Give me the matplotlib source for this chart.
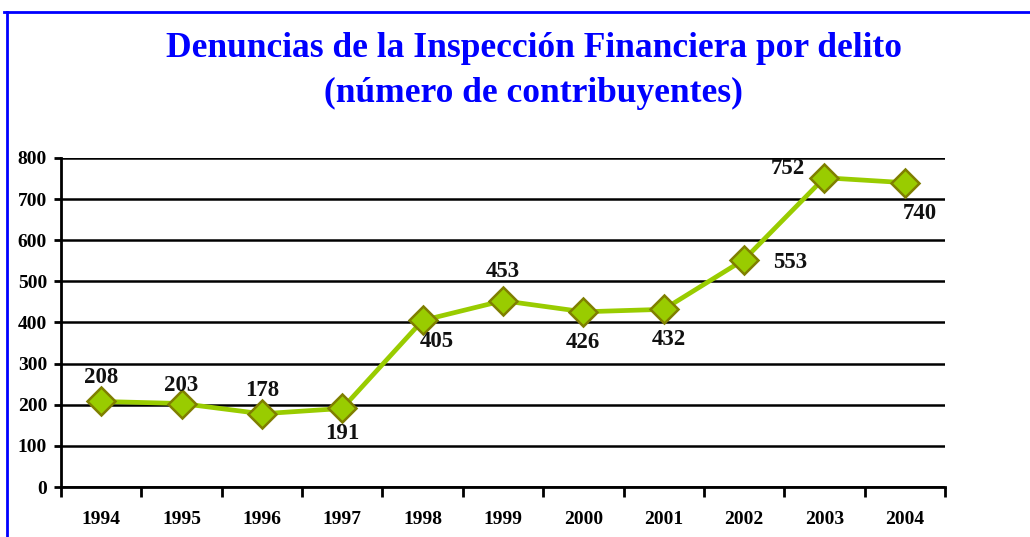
import matplotlib.pyplot as plt
from matplotlib.lines import Line2D

years = ['1994', '1995', '1996', '1997', '1998', '1999', '2000', '2001', '2002', '2003', '2004']
denuncias = [208, 203, 178, 191, 405, 453, 426, 432, 553, 752, 740]
# where each data label goes: (dx, dy) in points
label_pos = [(0, 17), (0, 13), (0, 17), (0, -18), (10, -15), (0, 21),
             (0, -22), (4, -22), (33, -2), (-26, 7), (11, -22)]

serif = ['Liberation Serif', 'DejaVu Serif']

fig = plt.figure(figsize=(10.3, 5.37), dpi=100)
ax = fig.add_axes([0.0592, 0.0931, 0.8583, 0.6127])

x = list(range(len(years)))
ax.plot(x, denuncias, color='#99cc00', lw=3.4, marker='D', ms=14,
        mfc='#99cc00', mec='#7f7f00', mew=1.8, zorder=3, clip_on=False)

for xi, v, (dx, dy) in zip(x, denuncias, label_pos):
    ax.annotate(str(v), (xi, v), xytext=(dx, dy), textcoords='offset points',
                ha='center', va='center', fontsize=16.5, fontweight='bold',
                family=serif, color='#111111')

ax.set_xlim(-0.5, len(years) - 0.5)
ax.set_ylim(0, 800)
ax.set_yticks(range(0, 801, 100))
ax.set_yticklabels([str(v) for v in range(0, 801, 100)], fontsize=14,
                   fontweight='bold', family=serif)
ax.yaxis.grid(True, color='black', lw=1.8)
ax.set_axisbelow(True)

# category ticks sit between the years, labels centred under each year
ax.set_xticks([i - 0.5 for i in range(len(years) + 1)])
ax.set_xticklabels([])
ax.set_xticks(x, minor=True)
ax.set_xticklabels(years, minor=True, fontsize=14, fontweight='bold', family=serif)
ax.tick_params(axis='x', which='major', direction='out', length=7, width=2)
ax.tick_params(axis='x', which='minor', length=0, pad=17)
ax.tick_params(axis='y', direction='out', length=5, width=2, pad=5)

for s in ['top', 'right']:
    ax.spines[s].set_visible(False)
ax.spines['left'].set_linewidth(2)
ax.spines['bottom'].set_linewidth(2)

fig.text(0.518, 0.910, 'Denuncias de la Inspección Financiera por delito',
         ha='center', va='center', fontsize=25.5, fontweight='bold', family=serif,
         color='#0000ff')
fig.text(0.518, 0.826, '(número de contribuyentes)', ha='center', va='center',
         fontsize=25.5, fontweight='bold', family=serif, color='#0000ff')

# blue frame (top and left edges)
fig.add_artist(Line2D([0.004, 1.0], [0.978, 0.978], transform=fig.transFigure,
                      color='#0000ff', lw=2))
fig.add_artist(Line2D([0.007, 0.007], [0.0, 0.978], transform=fig.transFigure,
                      color='#0000ff', lw=2))

fig.savefig('out.png', dpi=100)
